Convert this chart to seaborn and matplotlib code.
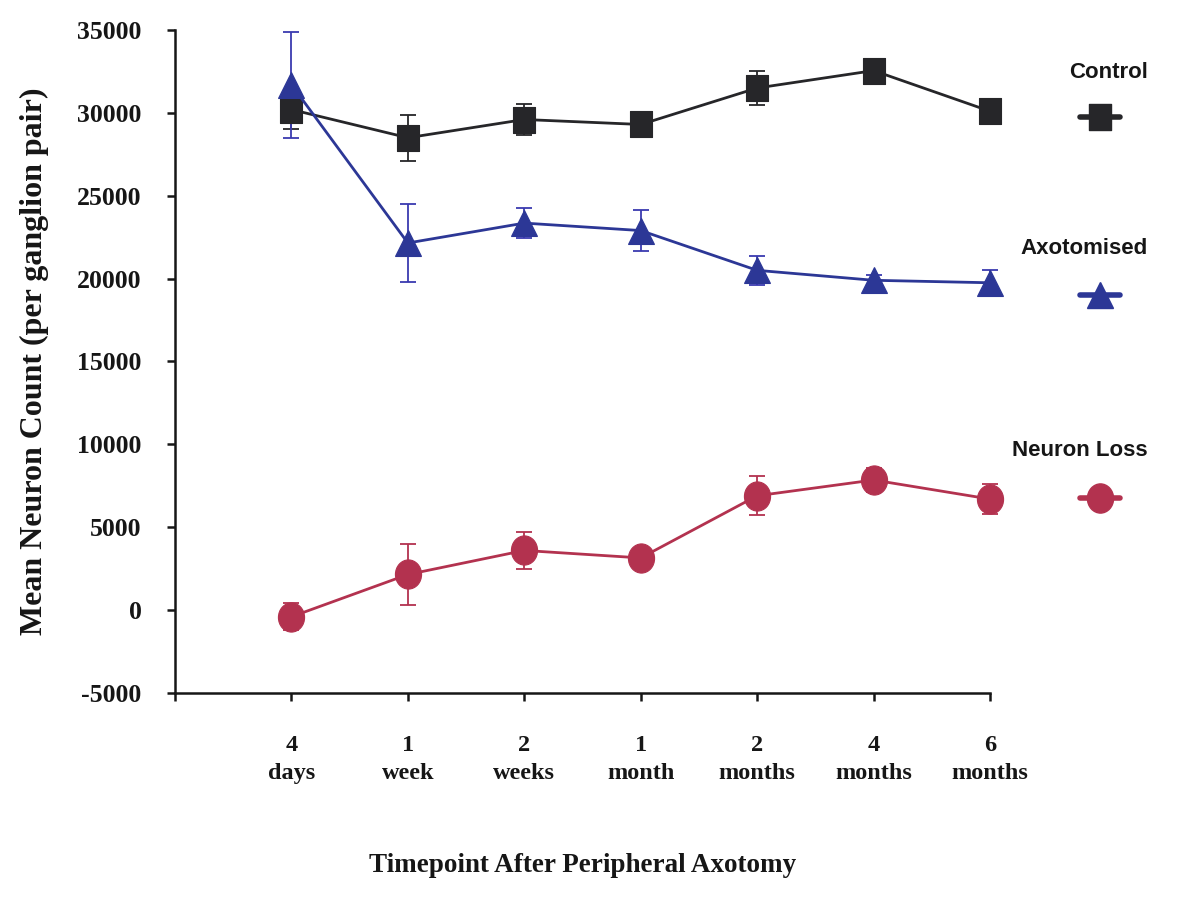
import numpy as np
import pandas as pd
import matplotlib
matplotlib.use("Agg")
import matplotlib.pyplot as plt
from matplotlib.path import Path
from matplotlib.lines import Line2D
import seaborn as sns

# Timepoints after peripheral axotomy
timepoints = ["4\ndays", "1\nweek", "2\nweeks", "1\nmonth", "2\nmonths", "4\nmonths", "6\nmonths"]

# Mean neuron counts per ganglion pair and their error bars
control_mean = [30200, 28500, 29600, 29300, 31500, 32550, 30100]
control_err = [1150, 1400, 920, 300, 1000, 500, 750]
axotomised_mean = [31700, 22150, 23350, 22900, 20500, 19900, 19750]
axotomised_err = [3200, 2350, 900, 1250, 880, 300, 750]
loss_mean = [-400, 2150, 3600, 3150, 6900, 7850, 6700]
loss_err = [800, 1850, 1120, 400, 1180, 700, 900]

series_names = ["Control", "Axotomised", "Neuron Loss"]
y_ticks = [-5000, 0, 5000, 10000, 15000, 20000, 25000, 30000, 35000]

sns.set_style("ticks")
plt.rcParams["font.family"] = ["Liberation Serif", "DejaVu Serif"]

C_BLACK = "#262629"
C_BLUE = "#2c3796"
C_RED = "#b3324f"
C_TEXT = "#161616"


def box_marker(w, h):
    return Path([(-w, -h), (w, -h), (w, h), (-w, h), (-w, -h)],
                [Path.MOVETO, Path.LINETO, Path.LINETO, Path.LINETO, Path.CLOSEPOLY])


def oval_marker(w, h):
    circ = Path.unit_circle()
    return Path(circ.vertices * np.array([w, h]), circ.codes)


square = box_marker(22, 25)
oval = oval_marker(26, 29)

x_idx = np.arange(len(timepoints))
frames = []
for name, means, errs in zip(series_names,
                             [control_mean, axotomised_mean, loss_mean],
                             [control_err, axotomised_err, loss_err]):
    frames.append(pd.DataFrame({"x": x_idx, "count": means, "err": errs, "group": name}))
df = pd.concat(frames, ignore_index=True)

styles = {
    "Control": dict(color=C_BLACK, marker=square, ms=18.5, ecolor=C_BLACK),
    "Axotomised": dict(color=C_BLUE, marker="^", ms=19.2, ecolor="#3a3ab0"),
    "Neuron Loss": dict(color=C_RED, marker=oval, ms=21.0, ecolor=C_RED),
}

fig = plt.figure(figsize=(11.83, 9.05), dpi=100)
ax = fig.add_axes([175 / 1183, 1 - 693 / 905, 815 / 1183, 663 / 905])

order = ["Neuron Loss", "Control", "Axotomised"]
for i, name in enumerate(order):
    sub = df[df["group"] == name]
    st = styles[name]
    ax.errorbar(sub["x"], sub["count"], yerr=sub["err"], fmt="none",
                ecolor=st["ecolor"], elinewidth=1.3, capsize=6, capthick=1.3,
                zorder=2 + i * 0.1, clip_on=False)
    sns.lineplot(data=sub, x="x", y="count", ax=ax, color=st["color"],
                 marker=st["marker"], markersize=st["ms"],
                 markeredgecolor=st["color"], markeredgewidth=0.8,
                 linewidth=2.0, legend=False, errorbar=None,
                 zorder=3 + i * 0.1, clip_on=False)

ax.set_xlim(-1, 6)
ax.set_ylim(-5000, 35000)
ax.set_xticks(np.arange(-1, len(timepoints)))
ax.set_xticklabels([""] + timepoints)
ax.set_yticks(y_ticks)
ax.set_yticklabels([str(v) for v in y_ticks])

sns.despine(ax=ax)
for side in ["left", "bottom"]:
    ax.spines[side].set_linewidth(1.8)
    ax.spines[side].set_color(C_TEXT)
ax.tick_params(axis="both", direction="out", length=6, width=1.8, color=C_TEXT,
               labelcolor=C_TEXT)
ax.tick_params(axis="y", pad=18, labelsize=18.5)
ax.tick_params(axis="x", pad=24, labelsize=17.5)
for lab in ax.get_xticklabels() + ax.get_yticklabels():
    lab.set_fontweight("bold")
for lab in ax.get_xticklabels():
    lab.set_linespacing(1.45)

ax.set_ylabel("Mean Neuron Count (per ganglion pair)", fontsize=23,
              fontweight="bold", color=C_TEXT, labelpad=20)
ax.set_xlabel("Timepoint After Peripheral Axotomy", fontsize=19.5,
              fontweight="bold", color=C_TEXT, labelpad=50)

# Series key on the right: name above a marker sample
key_label_y = [72, 248, 450]
key_marker_y = [120, 298, 500]
for name, ly, my in zip(series_names, key_label_y, key_marker_y):
    st = styles[name]
    fig.text(1148 / 1183, 1 - ly / 905, name, ha="right", va="center",
             fontsize=16, fontweight="bold", color=C_TEXT,
             family=["Liberation Sans", "DejaVu Sans"])
    handle = Line2D([], [], color=st["color"], lw=4, marker=st["marker"],
                    markersize=st["ms"], markeredgecolor=st["color"])
    leg = fig.legend(handles=[handle], labels=[""], loc="center",
                     bbox_to_anchor=(1100 / 1183, 1 - my / 905),
                     frameon=False, handlelength=1.8, handletextpad=0,
                     borderpad=0, borderaxespad=0, numpoints=1,
                     prop={"size": 16})

fig.savefig("out.png", dpi=100, facecolor="white")
